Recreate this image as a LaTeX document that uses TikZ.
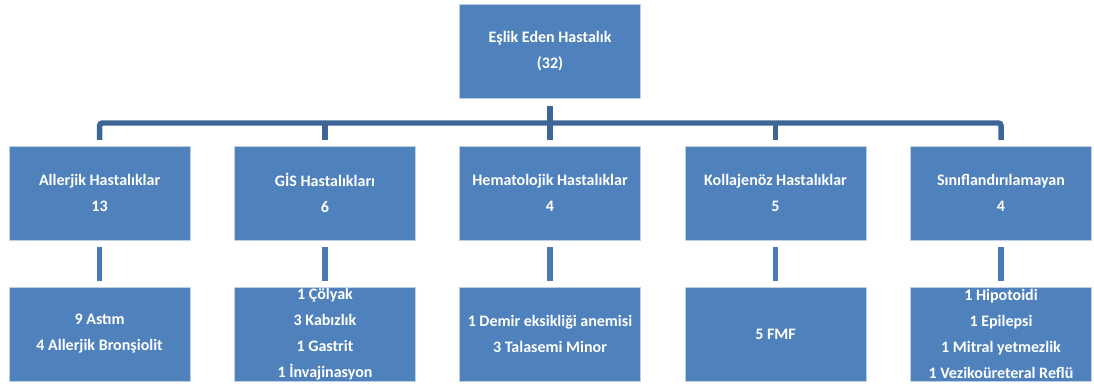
\documentclass[tikz,border=0pt]{standalone}
\usepackage{fontspec}
\setmainfont{Carlito}
\definecolor{boxblue}{RGB}{79,129,189}
\definecolor{boxedge}{RGB}{190,208,232}
\definecolor{busblue}{RGB}{61,101,150}
\definecolor{linkblue}{RGB}{74,122,181}
\tikzset{
  box/.style={rectangle, fill=boxblue, draw=boxedge, line width=0.6pt,
    minimum width=135.75pt, minimum height=70.5pt, inner sep=0pt,
    text=white, align=center, font=\fontsize{12}{19.5}\selectfont\bfseries},
  conn/.style={draw=busblue, line width=4.1pt},
  link/.style={draw=linkblue, line width=4.1pt, shorten <=4.5pt, shorten >=4.5pt}
}
\begin{document}
\begin{tikzpicture}[x=0.75pt,y=-0.75pt]
\useasboundingbox (0,0) rectangle (1094,383);
\node[box] (top) at (550,51) {Eşlik Eden Hastalık\\(32)};
\node[box] (m1) at (99.6,193.3) {Allerjik Hastalıklar\\13};
\node[box] (m2) at (325,193.3) {GİS Hastalıkları\\6};
\node[box] (m3) at (550,193.3) {Hematolojik Hastalıklar\\4};
\node[box] (m4) at (775.5,193.3) {Kollajenöz Hastalıklar\\5};
\node[box] (m5) at (1001,193.3) {Sınıflandırılamayan\\4};
\node[box] (b1) at (99.6,334) {9 Astım\\4 Allerjik Bronşiolit};
\node[box] (b2) at (325,334) {1 Çölyak\\3 Kabızlık\\1 Gastrit\\1 İnvajinasyon};
\node[box] (b3) at (550,334) {1 Demir eksikliği anemisi\\3 Talasemi Minor};
\node[box] (b4) at (775.5,334) {5 FMF};
\node[box] (b5) at (1001,334) {1 Hipotoidi\\1 Epilepsi\\1 Mitral yetmezlik\\1 Vezikoüreteral Reflü};
\coordinate (bus) at (550,123);
\draw[conn, rounded corners=2pt] ([yshift=4.5pt]m1.north) |- (bus) -| ([yshift=4.5pt]m5.north);
\draw[conn, shorten <=5.5pt, shorten >=4.5pt] (top) -- (m3);
\draw[conn, shorten >=4.5pt] (bus -| m2.north) -- (m2);
\draw[conn, shorten >=4.5pt] (bus -| m4.north) -- (m4);
\draw[link] (m1) -- (b1);
\draw[link] (m2) -- (b2);
\draw[link] (m3) -- (b3);
\draw[link] (m4) -- (b4);
\draw[link] (m5) -- (b5);
\end{tikzpicture}
\end{document}
